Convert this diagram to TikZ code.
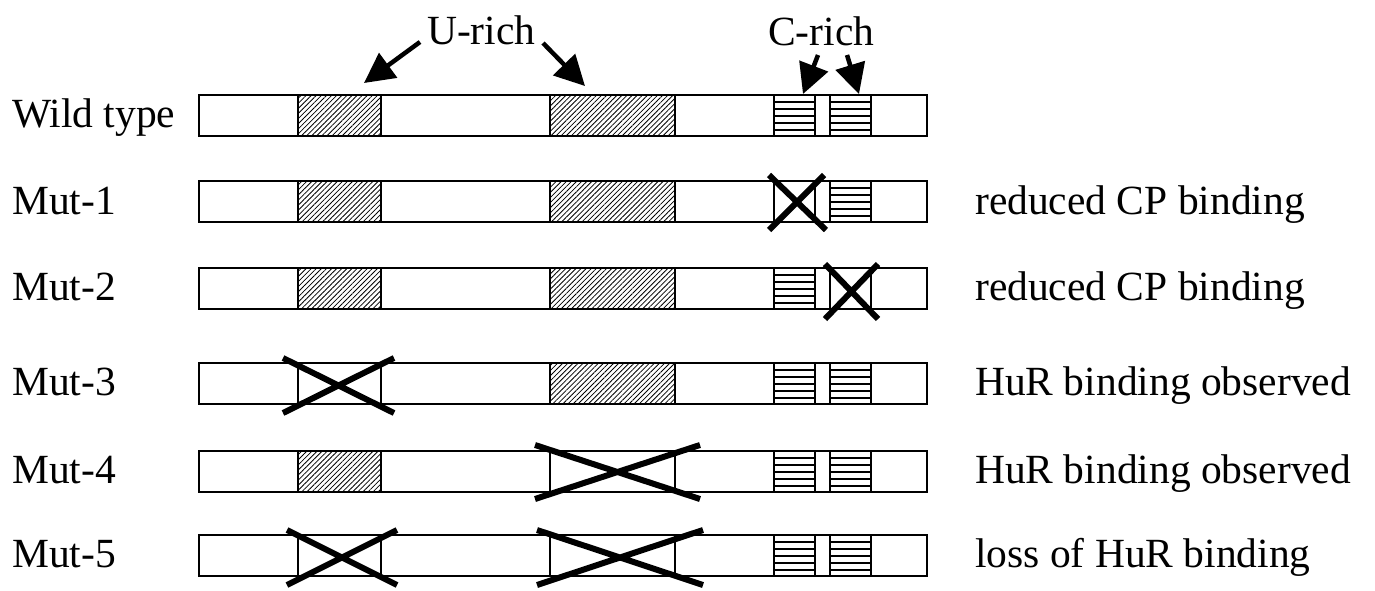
\documentclass[tikz,border=0pt]{standalone}
\usepackage{fontspec}
\setmainfont{Liberation Serif}
\usetikzlibrary{arrows.meta,patterns.meta}
\begin{document}
\begin{tikzpicture}[x=1pt,y=-1pt,
  lbl/.style={anchor=base west,inner sep=0pt,font=\fontsize{41.5}{48}\selectfont},
  barbox/.style={draw,line width=1.5pt},
  hatch/.style={draw,line width=1.5pt,pattern={Lines[angle=45,distance=3.6pt,line width=0.8pt]}},
  cbox/.style={draw,line width=1.5pt},
  xline/.style={line width=6pt},
  bigarrow/.style={line width=4.5pt,-{Triangle[length=30pt,width=30pt]}}
]
\useasboundingbox (0,0) rectangle (1375,590);
\newcommand{\rnarow}[1]{%
  \draw[barbox] (199,#1) rectangle (927,#1+41);
  \draw[hatch] (298,#1) rectangle (381,#1+41);
  \draw[hatch] (550,#1) rectangle (675,#1+41);
  \draw[cbox] (774,#1) rectangle (815,#1+41);
  \draw[cbox] (830,#1) rectangle (871,#1+41);
  \foreach \k in {7,14,21,28,35} {
    \draw[line width=1.2pt] (774,#1+\k) -- (815,#1+\k);
    \draw[line width=1.2pt] (830,#1+\k) -- (871,#1+\k);
  }%
}
\newcommand{\whitebox}[3]{\fill[white] (#1,#3+0.75) rectangle (#2,#3+40.25); \draw[line width=1.5pt] (#1,#3) rectangle (#2,#3+41);}
% rows
\rnarow{95}
\rnarow{181}
\rnarow{268}
\rnarow{363}
\rnarow{451}
\rnarow{535}
% mutated boxes emptied
\whitebox{774}{815}{181}
\whitebox{830}{871}{268}
\whitebox{298}{381}{363}
\whitebox{550}{675}{451}
\whitebox{298}{381}{535}
\whitebox{550}{675}{535}
% crosses
\draw[xline] (769,175) -- (826,230) (769,230) -- (824,175);
\draw[xline] (825,264) -- (878,319) (825,319) -- (878,264);
\draw[xline] (283,358) -- (394,413) (283,413) -- (394,358);
\draw[xline] (535,445) -- (700,499) (535,499) -- (700,445);
\draw[xline] (287,530) -- (397,585) (287,585) -- (397,530);
\draw[xline] (537,530) -- (703,585) (537,585) -- (703,530);
% left labels
\node[lbl] (wt) at (12,127) {Wild type};
\node[lbl] (m1) at (12,214) {Mut-1};
\node[lbl] (m2) at (12,300) {Mut-2};
\node[lbl] (m3) at (12,395) {Mut-3};
\node[lbl] (m4) at (12,483) {Mut-4};
\node[lbl] (m5) at (12,567) {Mut-5};
% right labels
\node[lbl] (r1) at (975,214) {reduced CP binding};
\node[lbl] (r2) at (975,300) {reduced CP binding};
\node[lbl] (r3) at (975,395) {HuR binding observed};
\node[lbl] (r4) at (975,483) {HuR binding observed};
\node[lbl] (r5) at (975,567) {loss of HuR binding};
% top labels
\node[lbl] (urich) at (427,44) {U-rich};
\node[lbl] (crich) at (768,45) {C-rich};
\coordinate (ua) at (364,83);
\coordinate (ub) at (585,86);
\coordinate (ca) at (803,94);
\coordinate (cb) at (859,94);
\draw[bigarrow] (420,42) -- (ua);
\draw[bigarrow] (543,43) -- (ub);
\draw[bigarrow] (818,55) -- (ca);
\draw[bigarrow] (847,55) -- (cb);
\end{tikzpicture}
\end{document}
